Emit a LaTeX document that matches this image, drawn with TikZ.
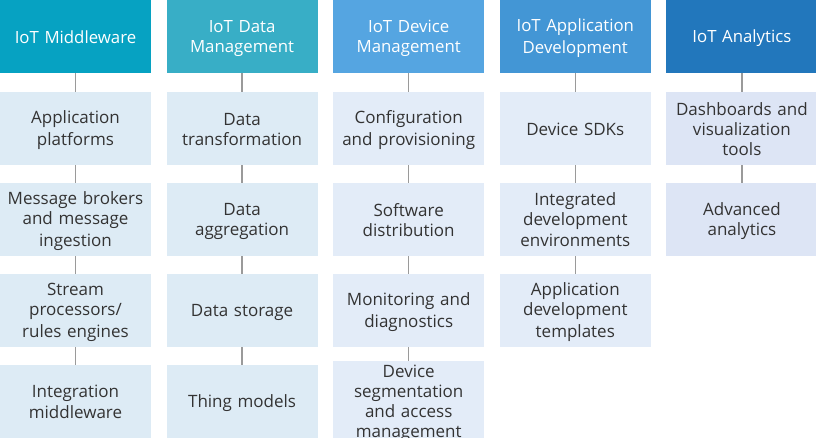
\documentclass[tikz,border=0pt]{standalone}
\usepackage{fontspec}
\setmainfont{Open Sans}
\definecolor{hA}{HTML}{06A2C2}
\definecolor{hB}{HTML}{38AEC6}
\definecolor{hC}{HTML}{55A5E1}
\definecolor{hD}{HTML}{4396D5}
\definecolor{hE}{HTML}{2277BC}
\definecolor{bA}{HTML}{DDEBF5}
\definecolor{bC}{HTML}{E3ECF8}
\definecolor{bE}{HTML}{DDE5F5}
\definecolor{txt}{HTML}{333333}
\definecolor{ln}{HTML}{9A9A9A}
\newcommand{\mystrut}{\rule[-3.5pt]{0pt}{20pt}}
\begin{document}
\begin{tikzpicture}[x=1pt,y=1pt,
  box/.style={minimum width=151pt,minimum height=73pt,inner sep=0pt,text width=148pt,align=center,
    execute at begin node=\mystrut, execute at end node=\mystrut},
  hdr/.style={box,text=white,font=\fontsize{16.8}{20}\selectfont},
  itm/.style={box,text=txt,font=\fontsize{17}{20}\selectfont},
  conn/.style={draw=ln,line width=1.3pt}]
\useasboundingbox (0,0) rectangle (816,-437);
\fill[white] (0,0) rectangle (816,-437);
% column centers: 75.5 + 166.6 i ; row centers: header -36.5, rows -128.5, -219.5, -310.5, -401.5
\node[hdr,fill=hA] (h1) at (75.5,-36.5) {IoT Middleware};
\node[hdr,fill=hB] (h2) at (242.1,-36.5) {IoT Data\\Management};
\node[hdr,fill=hC] (h3) at (408.7,-36.5) {IoT Device\\Management};
\node[hdr,fill=hD] (h4) at (575.3,-36.5) {IoT Application\\Development};
\node[hdr,fill=hE] (h5) at (741.9,-36.5) {IoT Analytics};
% column 1
\node[itm,fill=bA] (a1) at (75.5,-128.5) {Application\\platforms};
\node[itm,fill=bA] (a2) at (75.5,-219.5) {Message brokers\\and message\\ingestion};
\node[itm,fill=bA] (a3) at (75.5,-310.5) {Stream\\processors/\\rules engines};
\node[itm,fill=bA] (a4) at (75.5,-401.5) {Integration\\middleware};
% column 2
\node[itm,fill=bA] (b1) at (242.1,-128.5) {Data\\transformation};
\node[itm,fill=bA] (b2) at (242.1,-219.5) {Data\\aggregation};
\node[itm,fill=bA] (b3) at (242.1,-310.5) {Data storage};
\node[itm,fill=bA] (b4) at (242.1,-401.5) {Thing models};
% column 3
\node[itm,fill=bC] (c1) at (408.7,-128.5) {Configuration\\and provisioning};
\node[itm,fill=bC] (c2) at (408.7,-219.5) {Software\\distribution};
\node[itm,fill=bC] (c3) at (408.7,-310.5) {Monitoring and\\diagnostics};
\node[itm,fill=bC] (c4) at (408.7,-401.5) {Device\\segmentation\\and access\\management};
% column 4
\node[itm,fill=bC] (d1) at (575.3,-128.5) {Device SDKs};
\node[itm,fill=bC] (d2) at (575.3,-219.5) {Integrated\\development\\environments};
\node[itm,fill=bC] (d3) at (575.3,-310.5) {Application\\development\\templates};
% column 5
\node[itm,fill=bE] (e1) at (741.9,-128.5) {Dashboards and\\visualization\\tools};
\node[itm,fill=bE] (e2) at (741.9,-219.5) {Advanced\\analytics};
% connectors
\foreach \u/\v in {h1/a1,a1/a2,a2/a3,a3/a4,h2/b1,b1/b2,b2/b3,b3/b4,h3/c1,c1/c2,c2/c3,c3/c4,h4/d1,d1/d2,d2/d3,h5/e1,e1/e2}
  \draw[conn] (\u.south) -- (\v.north);
\end{tikzpicture}
\end{document}
